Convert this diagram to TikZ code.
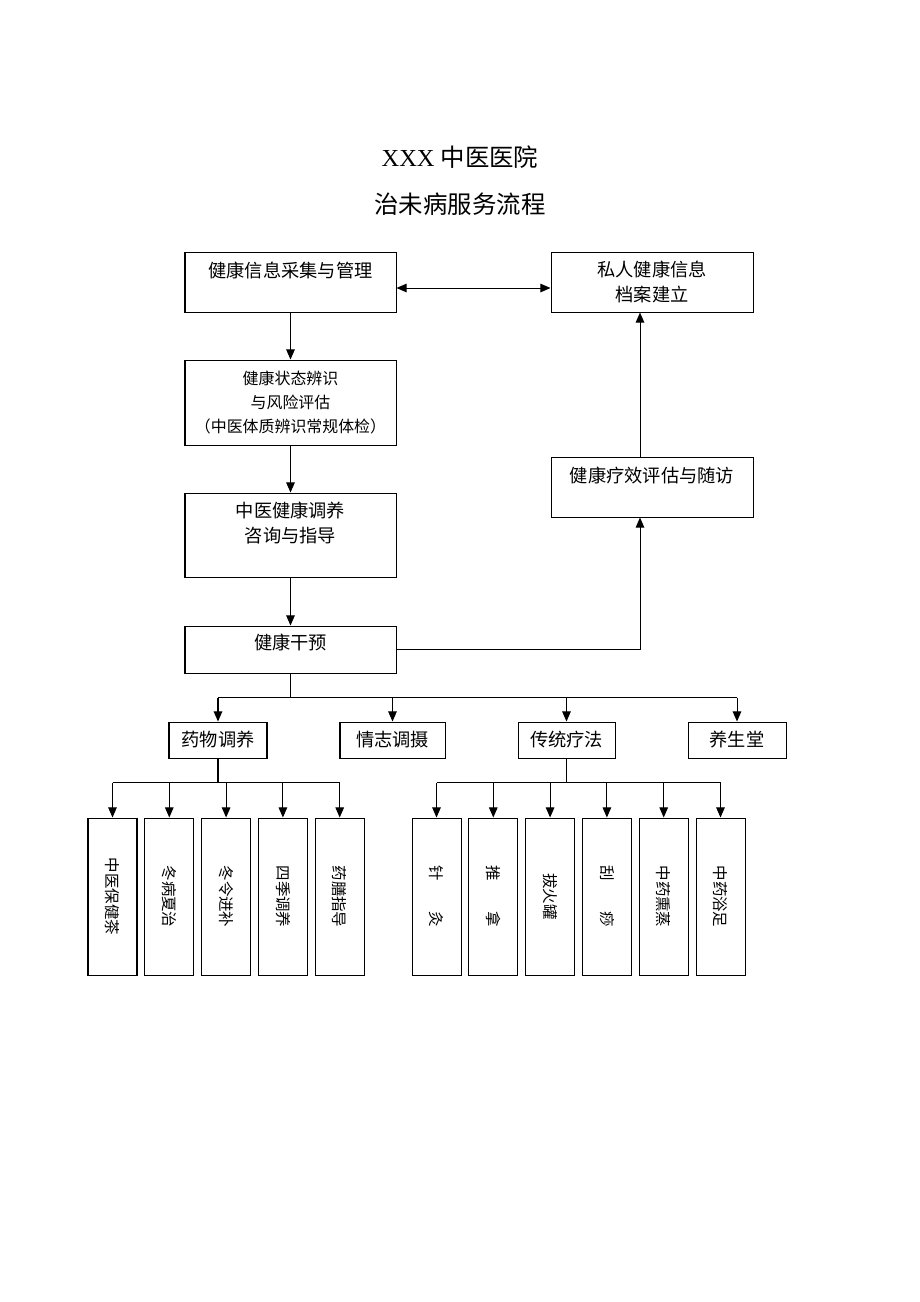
\documentclass[tikz,border=0pt]{standalone}
\usepackage{fontspec}
\setmainfont{Liberation Serif}
\newfontfamily\cjk{Noto Sans CJK SC}
\usetikzlibrary{arrows.meta, positioning}
\newlength\px \setlength\px{0.6467pt}
\tikzset{
  box/.style = {draw=black, align=center, inner sep=0pt,
    font=\cjk\fontsize{11.8}{16.2}\selectfont},
  small/.style = {font=\cjk\fontsize{10.3}{15.5}\selectfont},
  dims/.style 2 args = {minimum width=#1*\px, minimum height=#2*\px},
  vbox/.style = {box, rotate=-90, dims={157}{49},
    font=\cjk\fontsize{10}{12}\selectfont}
}

\begin{document}
\begin{tikzpicture}[x=\px, y=-\px, line width=0.65pt,
  >={Triangle[length=6.5pt,width=5.5pt]}]
\useasboundingbox (0,0) rectangle (920,1302);
\node[font=\fontsize{15.8}{19}\selectfont] (head) at (460,157) {XXX {\cjk 中医医院}};
\node[font=\cjk\fontsize{15.8}{19}\selectfont] (sub) at (460,204) {治未病服务流程};
% left column
\node[box, dims={211}{60}] (collect) at (290.5,282) {健康信息采集与管理\\ \mbox{}};
\node[box, small, dims={211}{85}] (assess) at (290.5,402.5)
  {健康状态辨识\\与风险评估\\（中医体质辨识常规体检）};
\node[box, dims={211}{84}] (consult) at (290.5,535) {中医健康调养\\咨询与指导\\ \mbox{}};
\node[box, dims={211}{47}, text height=6pt, text depth=5.4pt] (intervene)
  at (290.5,649.5) {健康干预};
% right column
\node[box, dims={202}{60}] (archive) at (652,282) {私人健康信息\\档案建立};
\node[box, dims={202}{60}] (review) at (652,487) {健康疗效评估与随访\\ \mbox{}};
% second row
\node[box, dims={98}{36}] (drug) at (218,740) {药物调养};
\node[box, dims={105}{36}] (mood) at (392.5,740) {情志调摄};
\node[box, dims={97}{36}] (trad) at (566.5,740) {传统疗法};
\node[box, dims={98}{36}] (yang) at (737,740) {养生堂};
% bottom rows
\foreach \t [count=\i] in {中医保健茶,冬病夏治,冬令进补,四季调养,药膳指导}
  \node[vbox] (d\i) at ({112.5+56.8*(\i-1)},896.5) {\t};
\foreach \t [count=\i] in {针　　灸,推　　拿,拔火罐,刮　　痧,中药熏蒸,中药浴足}
  \node[vbox] (t\i) at ({436.5+56.8*(\i-1)},896.5) {\t};

\draw[<->] ([yshift=-6*\px]collect.east) -- ([yshift=-6*\px]archive.west);
\draw[->] (collect) -- (assess);
\draw[->] (assess) -- (consult);
\draw[->] (consult) -- (intervene);
\draw[->] (intervene.east) -| ([xshift=-12*\px]review.south);
\draw[->] ([xshift=-12*\px]review.north) -- ([xshift=-12*\px]archive.south);
\draw (intervene.south) -- ++(0,24) coordinate (bus);
\draw (drug.north |- bus) -- (yang.north |- bus);
\foreach \n in {drug,mood,trad,yang} \draw[->] (\n.north |- bus) -- (\n);
\draw (drug.south) -- ++(0,24) coordinate (left);
\draw (d1 |- left) -- (d5 |- left);
\foreach \i in {1,...,5} \draw[->] (d\i |- left) -- (d\i);
\draw (trad.south) -- ++(0,24) coordinate (right);
\draw (t1 |- right) -- (t6 |- right);
\foreach \i in {1,...,6} \draw[->] (t\i |- right) -- (t\i);
\end{tikzpicture}
\end{document}
